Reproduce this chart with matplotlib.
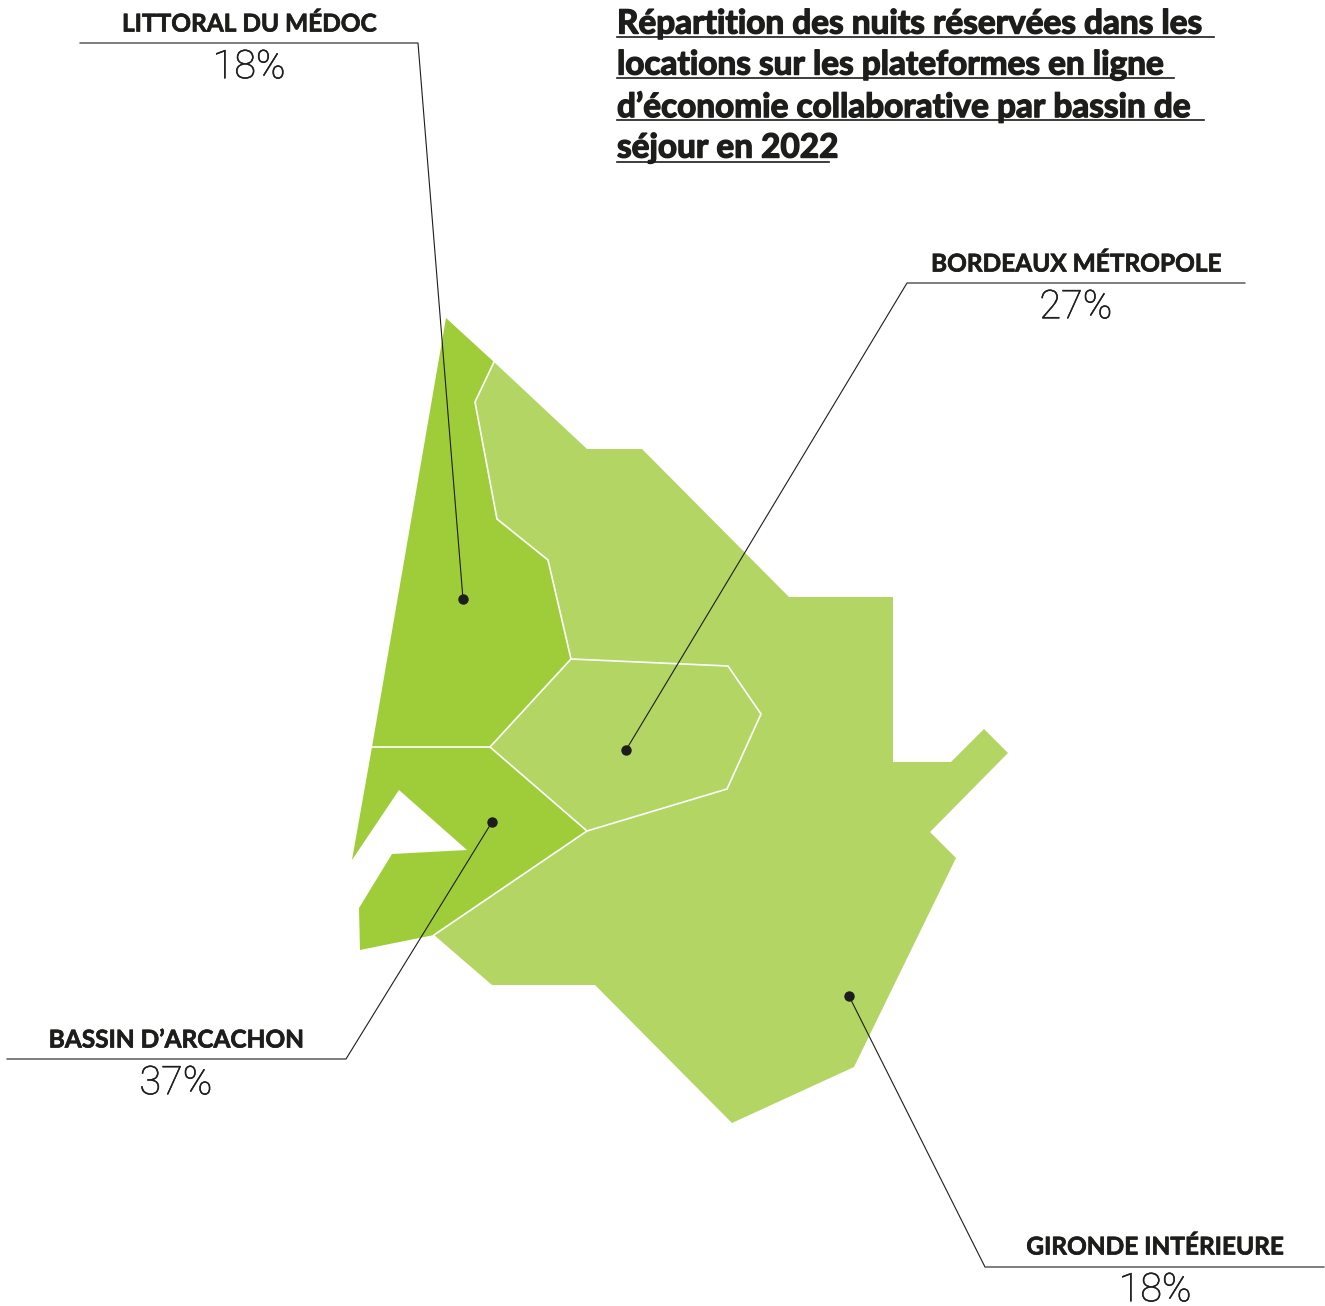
# -*- coding: utf-8 -*-
# Nuits reservees par bassin de sejour - carte schematique de la Gironde
import matplotlib
matplotlib.use('Agg')
import matplotlib.pyplot as plt
from matplotlib.patches import Polygon
import matplotlib.patheffects as pe

W, H = 1325, 1306

# regions (outline, in pixels)
medoc_x = [446, 494, 475, 497, 548, 571, 490, 372]
medoc_y = [318, 362, 402, 519, 560, 659, 747, 747]
arcachon_x = [372, 490, 587, 434, 360, 359, 392, 467, 399, 352]
arcachon_y = [747, 747, 831, 935, 950, 908, 854, 850, 790, 860]
metropole_x = [571, 728, 761, 727, 587, 490]
metropole_y = [659, 666, 714, 789, 831, 747]
gironde_x = [494, 587, 642, 789, 893, 893, 951, 984, 1008, 930, 956, 854, 732, 595, 492, 434,
             587, 727, 761, 728, 571, 548, 497, 475]
gironde_y = [362, 449, 449, 597, 597, 762, 762, 729, 753, 832, 858, 1067, 1123, 985, 985, 935,
             831, 789, 714, 666, 659, 560, 519, 402]

dark_green = '#9fcd3a'
light_green = '#b2d564'
ink = '#1d1d1b'

# labels
names = ['LITTORAL DU MÉDOC', 'BORDEAUX MÉTROPOLE', 'BASSIN D’ARCACHON', 'GIRONDE INTÉRIEURE']
shares = ['18%', '27%', '37%', '18%']
name_x = [249, 1076, 176, 1155]
name_y = [24, 264, 1040, 1247]
share_y = [67, 307, 1083, 1290]

# leader lines : start of shelf, elbow, dot
leader_x = [[80, 418, 463], [1245, 907, 626], [7, 346, 492], [1324, 985, 849]]
leader_y = [[43, 43, 599], [283, 283, 750], [1059, 1059, 822], [1267, 1267, 996]]

title_lines = ['Répartition des nuits réservées dans les',
               'locations sur les plateformes en ligne',
               'd’économie collaborative par bassin de',
               'séjour en 2022']
title_y = [24, 65, 107, 148]
rule_y = [37, 78, 120, 162]
title_end = [1214, 1174, 1204, 829]

fig = plt.figure(figsize=(W / 100, H / 100), dpi=100)
ax = fig.add_axes([0, 0, 1, 1])
ax.set_xlim(0, W)
ax.set_ylim(H, 0)
ax.axis('off')

for xs, ys, col in [(gironde_x, gironde_y, light_green),
                    (metropole_x, metropole_y, light_green),
                    (medoc_x, medoc_y, dark_green),
                    (arcachon_x, arcachon_y, dark_green)]:
    ax.add_patch(Polygon(list(zip(xs, ys)), closed=True, facecolor=col, edgecolor='none', zorder=1))

# white borders between the regions
border_x = [[494, 475, 497, 548, 571, 490, 372], [571, 728, 761, 727, 587, 434], [490, 587]]
border_y = [[362, 402, 519, 560, 659, 747, 747], [659, 666, 714, 789, 831, 935], [747, 831]]
for bx, by in zip(border_x, border_y):
    ax.plot(bx, by, color='white', lw=1.2, zorder=2, solid_joinstyle='miter')

for lx, ly in zip(leader_x, leader_y):
    ax.plot(lx, ly, color=ink, lw=0.8, zorder=3)
    ax.plot(lx[-1], ly[-1], 'o', color=ink, ms=7.5, mew=0, zorder=4)

# Lato Black is not picked up, a thin stroke thickens the bold
heavy_label = [pe.withStroke(linewidth=0.5, foreground=ink)]
heavy_title = [pe.withStroke(linewidth=1.0, foreground=ink)]
heavy_share = [pe.withStroke(linewidth=0.4, foreground=ink)]

for i in range(len(names)):
    ax.text(name_x[i], name_y[i], names[i], family='Lato', weight='bold', fontsize=17.6,
            color=ink, ha='center', va='center', path_effects=heavy_label)
    ax.text(name_x[i], share_y[i], shares[i], family='Roboto', weight='light', fontsize=28.5,
            color=ink, ha='center', va='center', path_effects=heavy_share)

for t, y, ry, x_end in zip(title_lines, title_y, rule_y, title_end):
    ax.text(617, y, t, family='Lato', weight='bold', fontsize=24, color=ink, ha='left', va='center',
            path_effects=heavy_title)
    ax.plot([617, x_end], [ry, ry], color=ink, lw=1.2)

fig.savefig('out.png', dpi=100)
